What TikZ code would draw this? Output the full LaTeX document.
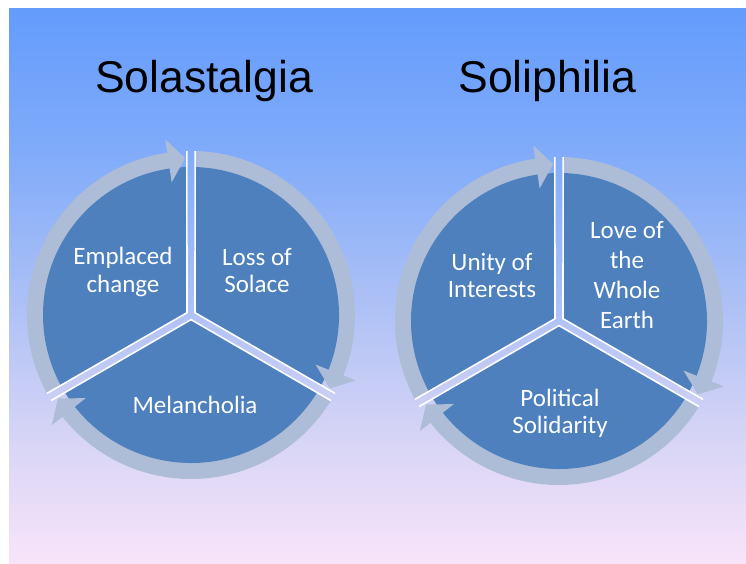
\documentclass[tikz,border=0pt]{standalone}
\usepackage{fontspec}
\setmainfont{Liberation Sans}
\newfontfamily\segfont{Carlito}

\definecolor{pieblue}{RGB}{77,128,189}
\definecolor{ringcol}{RGB}{174,189,215}
\definecolor{bgtop}{RGB}{100,156,252}
\definecolor{bghigh}{RGB}{128,171,250}
\definecolor{bgmid}{RGB}{172,192,245}
\definecolor{bglow}{RGB}{218,214,246}
\definecolor{bgbot}{RGB}{248,228,250}

% slide background, light blue at the top fading to pale pink
\pgfdeclareverticalshading{slidebg}{100bp}{%
  color(0bp)=(bgbot); color(25bp)=(bgbot); color(35.3bp)=(bglow);
  color(48.8bp)=(bgmid); color(62.3bp)=(bghigh); color(75bp)=(bgtop);
  color(100bp)=(bgtop)}

\tikzset{
  titletext/.style={font=\fontsize{44.5}{50}\selectfont, text=black, anchor=base, inner sep=0pt},
  seglabel/.style={text=white, font=\segfont\fontsize{25}{27.5}\selectfont, align=center, inner sep=0pt},
  ringband/.style={fill=ringcol},
  wedge/.style={fill=pieblue},
  gapedge/.style={draw=white, line width=1.6pt}
}

% three-segment pie with clockwise circular arrows around it
\newcommand{\segcycle}[2]{%
  \begin{scope}[shift={(#1,#2)}]
    % arrow bands (tail at one gap, head at the next one)
    \foreach \s/\e in {208.5/90, 88.5/-30, -31.5/-150}{
      \pgfmathsetmacro\hb{\e+8.3}
      \pgfmathsetmacro\tp{\e+2.2}
      \fill[ringband] (\s:164) arc[start angle=\s, end angle=\hb, radius=164]
        -- (\hb:177) -- (\tp:157) -- (\hb:134) -- (\hb:145)
        arc[start angle=\hb, end angle=\s, radius=145] -- cycle;
    }
    % pie segments, separated by narrow gaps
    \foreach \lo in {90,-30,-150}{
      \pgfmathsetmacro\bis{\lo+60}
      \pgfmathsetmacro\a{\lo+1.5}
      \pgfmathsetmacro\b{\lo+118.5}
      \fill[wedge] (\bis:4.6) -- (\a:148) arc[start angle=\a, end angle=\b, radius=148] -- cycle;
    }
    % arrowheads lie over the pie
    \foreach \e in {90,-30,-150}{
      \pgfmathsetmacro\hb{\e+8.3}
      \pgfmathsetmacro\tp{\e+2.2}
      \fill[ringband] (\hb:177) -- (\tp:157) -- (\hb:134) -- cycle;
    }
    % white edges along the gaps
    \foreach \lo in {90,-30,-150}{
      \pgfmathsetmacro\bis{\lo+60}
      \pgfmathsetmacro\a{\lo+1.45}
      \pgfmathsetmacro\b{\lo+118.55}
      \draw[gapedge] (\a:164) -- (\bis:4.6) -- (\b:164);
    }
  \end{scope}}

\begin{document}
\begin{tikzpicture}[x=1pt, y=1pt]
  \useasboundingbox (0,0) rectangle (746,564);
  \fill[white] (0,0) rectangle (746,564);
  \shade[shading=slidebg] (9,0) rectangle (746,555);

  \node[titletext] (tleft) at (204,471) {Solastalgia};
  \node[titletext] (tright) at (547.5,471) {Soliphilia};

  \segcycle{191}{249}
  \segcycle{559}{243}

  \node[seglabel] (emplaced) at (123,292) {Emplaced\\change};
  \node[seglabel] (loss) at (257,293.5) {Loss of\\Solace};
  \node[seglabel] (melan) at (195,159) {Melancholia};

  \node[seglabel] (unity) at (492,288.5) {Unity of\\Interests};
  \node[seglabel, font=\segfont\fontsize{25}{30}\selectfont] (love) at (627,288.5) {Love of\\the\\Whole\\Earth};
  \node[seglabel] (political) at (560,150.5) {Political\\Solidarity};
\end{tikzpicture}
\end{document}
